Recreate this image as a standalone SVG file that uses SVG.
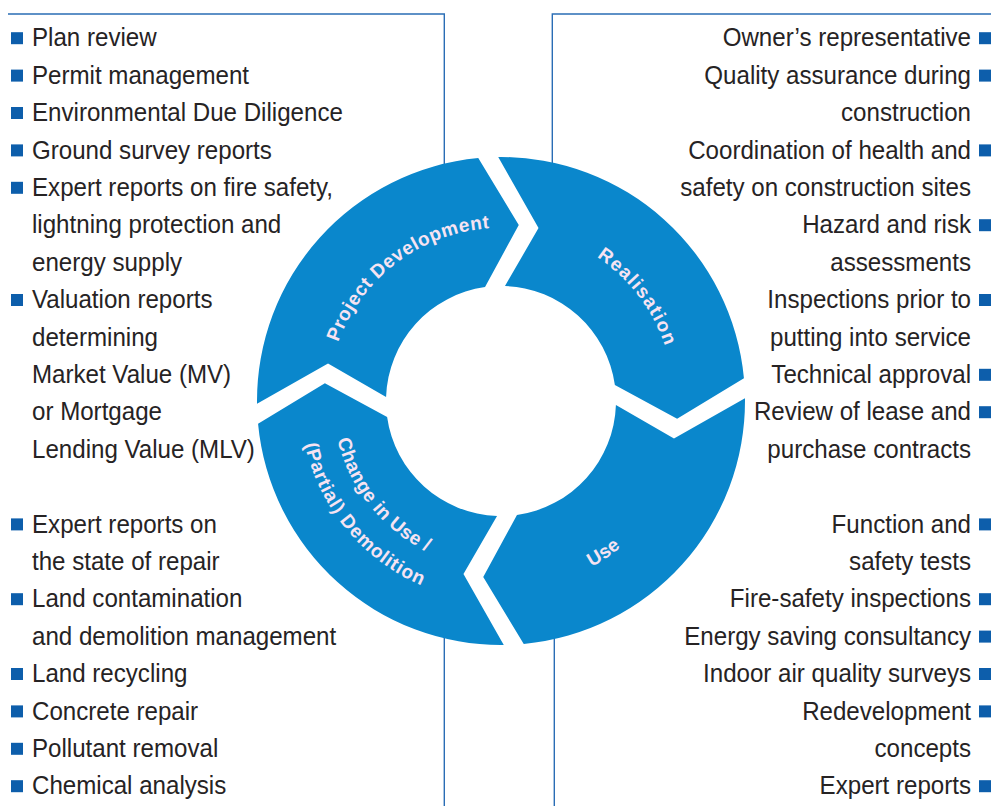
<svg xmlns="http://www.w3.org/2000/svg" width="991" height="806" viewBox="0 0 991 806">
<style>
.t{font-family:"Liberation Sans",Arial,sans-serif;font-size:25px;fill:#262324}
.r{text-anchor:end}
.b{fill:#0d5eab}
.ln{fill:none;stroke:#2a6db5;stroke-width:1.4}
.seg{fill:#0a87cc}
.lbl{font-family:"Liberation Sans",Arial,sans-serif;font-weight:bold;font-size:19px;fill:#f6e3f2}
</style>
<defs>
<path id="pPD" d="M328.2,392 A173,173 0 0 1 539.9,232.4"/>
<path id="pRe" d="M508.5,228.2 A173,173 0 0 1 669.9,438.4"/>
<path id="pUse" d="M448.9,582.7 A189,189 0 0 0 689,420.8"/>
<path id="pCh1" d="M336.4,367.5 A168,168 0 0 0 496.6,568.9"/>
<path id="pCh2" d="M303.4,364.4 A201,201 0 0 0 499.2,602"/>
</defs>
<rect width="991" height="806" fill="#ffffff"/>
<g id="connectors">
<polyline class="ln" points="8,14 444.3,14 444.3,175"/>
<polyline class="ln" points="991,14 552.3,14 552.3,175"/>
<line class="ln" x1="444.3" y1="630" x2="444.3" y2="806"/>
<line class="ln" x1="554.3" y1="630" x2="554.3" y2="806"/>
</g>
<g id="seg-project-development">
<path class="seg" d="M257.02,403.77 A244,244 0 0 1 478.25,158.06 L518.76,224.89 L485.03,287.11 A115,115 0 0 0 386.07,397.03 L328.02,363.47 Z"/>
<text class="lbl"><textPath href="#pPD" startOffset="50%" text-anchor="middle" textLength="200" lengthAdjust="spacing">Project Development</textPath></text>
</g>
<g id="seg-realisation">
<path class="seg" d="M498.23,157.02 A244,244 0 0 1 743.94,378.25 L677.11,418.76 L614.89,385.03 A115,115 0 0 0 504.97,286.07 L538.53,228.02 Z"/>
<text class="lbl"><textPath href="#pRe" startOffset="50%" text-anchor="middle" textLength="114" lengthAdjust="spacing">Realisation</textPath></text>
</g>
<g id="seg-use">
<path class="seg" d="M744.98,398.23 A244,244 0 0 1 523.75,643.94 L483.24,577.11 L516.97,514.89 A115,115 0 0 0 615.93,404.97 L673.98,438.53 Z"/>
<text class="lbl"><textPath href="#pUse" startOffset="50%" text-anchor="middle">Use</textPath></text>
</g>
<g id="seg-change-demolition">
<path class="seg" d="M503.77,644.98 A244,244 0 0 1 258.06,423.75 L324.89,383.24 L387.11,416.97 A115,115 0 0 0 497.03,515.93 L463.47,573.98 Z"/>
<text class="lbl"><textPath href="#pCh1" startOffset="50%" text-anchor="middle" textLength="148" lengthAdjust="spacing">Change in Use /</textPath></text>
<text class="lbl"><textPath href="#pCh2" startOffset="50%" text-anchor="middle" textLength="190" lengthAdjust="spacing">(Partial) Demolition</textPath></text>
</g>
<g id="left-list">
<rect class="b" x="11" y="32.2" width="12" height="12"/>
<rect class="b" x="11" y="69.6" width="12" height="12"/>
<rect class="b" x="11" y="107" width="12" height="12"/>
<rect class="b" x="11" y="144.4" width="12" height="12"/>
<rect class="b" x="11" y="181.8" width="12" height="12"/>
<rect class="b" x="11" y="294" width="12" height="12"/>
<rect class="b" x="11" y="518.4" width="12" height="12"/>
<rect class="b" x="11" y="593.2" width="12" height="12"/>
<rect class="b" x="11" y="668" width="12" height="12"/>
<rect class="b" x="11" y="705.4" width="12" height="12"/>
<rect class="b" x="11" y="742.8" width="12" height="12"/>
<rect class="b" x="11" y="780.2" width="12" height="12"/>
<g transform="translate(32 0) scale(0.965 1)">
<text class="t" x="0" y="46.5">Plan review</text>
<text class="t" x="0" y="83.9">Permit management</text>
<text class="t" x="0" y="121.3">Environmental Due Diligence</text>
<text class="t" x="0" y="158.7">Ground survey reports</text>
<text class="t" x="0" y="196.1">Expert reports on fire safety,</text>
<text class="t" x="0" y="233.5">lightning protection and</text>
<text class="t" x="0" y="270.9">energy supply</text>
<text class="t" x="0" y="308.3">Valuation reports</text>
<text class="t" x="0" y="345.7">determining</text>
<text class="t" x="0" y="383.1">Market Value (MV)</text>
<text class="t" x="0" y="420.5">or Mortgage</text>
<text class="t" x="0" y="457.9">Lending Value (MLV)</text>
<text class="t" x="0" y="532.7">Expert reports on</text>
<text class="t" x="0" y="570.1">the state of repair</text>
<text class="t" x="0" y="607.5">Land contamination</text>
<text class="t" x="0" y="644.9">and demolition management</text>
<text class="t" x="0" y="682.3">Land recycling</text>
<text class="t" x="0" y="719.7">Concrete repair</text>
<text class="t" x="0" y="757.1">Pollutant removal</text>
<text class="t" x="0" y="794.5">Chemical analysis</text>
</g>
</g>
<g id="right-list">
<rect class="b" x="979" y="32.2" width="12" height="12"/>
<rect class="b" x="979" y="69.6" width="12" height="12"/>
<rect class="b" x="979" y="144.4" width="12" height="12"/>
<rect class="b" x="979" y="219.2" width="12" height="12"/>
<rect class="b" x="979" y="294" width="12" height="12"/>
<rect class="b" x="979" y="368.8" width="12" height="12"/>
<rect class="b" x="979" y="406.2" width="12" height="12"/>
<rect class="b" x="979" y="518.4" width="12" height="12"/>
<rect class="b" x="979" y="593.2" width="12" height="12"/>
<rect class="b" x="979" y="630.6" width="12" height="12"/>
<rect class="b" x="979" y="668" width="12" height="12"/>
<rect class="b" x="979" y="705.4" width="12" height="12"/>
<rect class="b" x="979" y="780.2" width="12" height="12"/>
<g transform="translate(971 0) scale(0.965 1)">
<text class="t r" x="0" y="46.5">Owner’s representative</text>
<text class="t r" x="0" y="83.9">Quality assurance during</text>
<text class="t r" x="0" y="121.3">construction</text>
<text class="t r" x="0" y="158.7">Coordination of health and</text>
<text class="t r" x="0" y="196.1">safety on construction sites</text>
<text class="t r" x="0" y="233.5">Hazard and risk</text>
<text class="t r" x="0" y="270.9">assessments</text>
<text class="t r" x="0" y="308.3">Inspections prior to</text>
<text class="t r" x="0" y="345.7">putting into service</text>
<text class="t r" x="0" y="383.1">Technical approval</text>
<text class="t r" x="0" y="420.5">Review of lease and</text>
<text class="t r" x="0" y="457.9">purchase contracts</text>
<text class="t r" x="0" y="532.7">Function and</text>
<text class="t r" x="0" y="570.1">safety tests</text>
<text class="t r" x="0" y="607.5">Fire-safety inspections</text>
<text class="t r" x="0" y="644.9">Energy saving consultancy</text>
<text class="t r" x="0" y="682.3">Indoor air quality surveys</text>
<text class="t r" x="0" y="719.7">Redevelopment</text>
<text class="t r" x="0" y="757.1">concepts</text>
<text class="t r" x="0" y="794.5">Expert reports</text>
</g>
</g>
</svg>
